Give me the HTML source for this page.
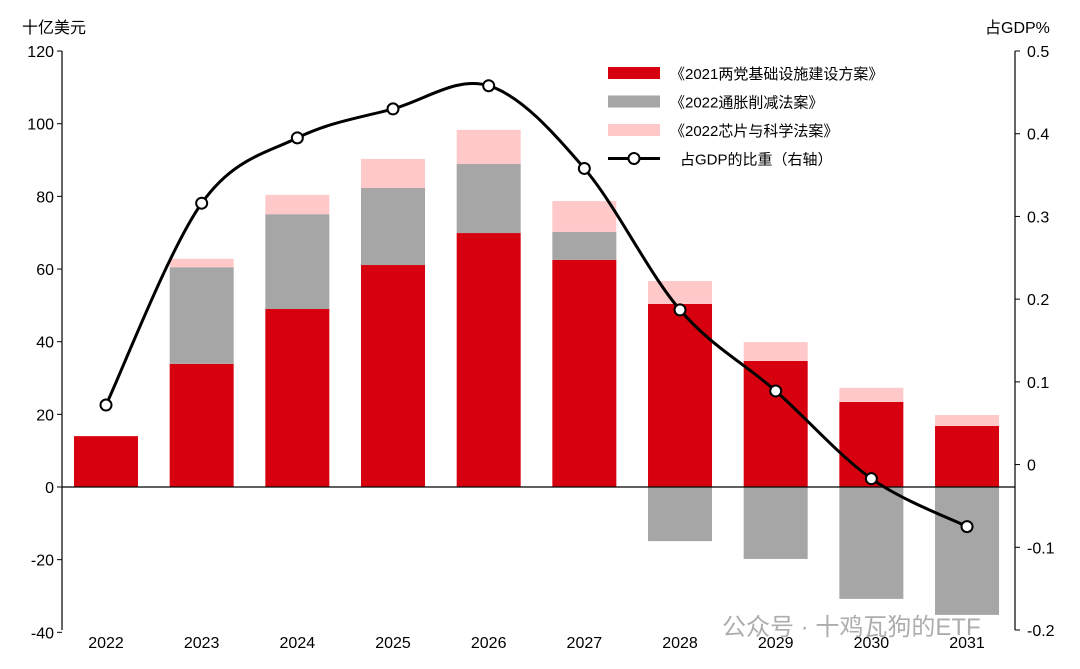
<!DOCTYPE html>
<html><head><meta charset="utf-8"><style>
body{margin:0;background:#fff}
svg{display:block;font-family:"Liberation Sans","Noto Sans CJK SC",sans-serif}
</style></head><body>
<svg id="c" width="1080" height="669"></svg>
<script>
const categories=["2022","2023","2024","2025","2026","2027","2028","2029","2030","2031"];
const infraValues=[14,33.9,49,61.1,69.9,62.5,50.4,34.7,23.4,16.8];
const iraValues=[0,26.6,26.1,21.2,19,7.7,-14.9,-19.8,-30.8,-35.2];
const chipsValues=[0,2.3,5.3,8,9.4,8.5,6.3,5.2,3.9,3];
const gdpShare=[0.072,0.316,0.395,0.43,0.458,0.358,0.187,0.089,-0.017,-0.075];
const leftTicks=[120,100,80,60,40,20,0,-20,-40];
const rightTicks=[0.5,0.4,0.3,0.2,0.1,0,-0.1,-0.2];
const legendLabels=["《2021两党基础设施建设方案》","《2022通胀削减法案》","《2022芯片与科学法案》","占GDP的比重（右轴）"];

const NS="http://www.w3.org/2000/svg";
const svg=document.getElementById('c');
function mk(t,a,txt){const e=document.createElementNS(NS,t);for(const k in a)e.setAttribute(k,a[k]);if(txt!=null)e.textContent=txt;svg.appendChild(e);return e;}
const X0=62,X1=1015,step=95.67,bw=64;
const yL=v=>487-v*3.633;
const yR=v=>630-(v+0.2)*(579/0.7);
const xc=i=>106+step*i;

let e=mk('line',{x1:X0,y1:51,x2:X0,y2:630,stroke:'#000','stroke-width':1.2});

e=mk('line',{x1:X1,y1:51,x2:X1,y2:630,stroke:'#000','stroke-width':1.2});

leftTicks.forEach(v=>{
 mk('line',{x1:X0-5,y1:yL(v),x2:X0,y2:yL(v),stroke:'#000'});
 e=mk('text',{x:X0-8,y:yL(v)+6,'text-anchor':'end','font-size':16},v);
 
});
rightTicks.forEach(v=>{
 mk('line',{x1:X1,y1:yR(v),x2:X1+5,y2:yR(v),stroke:'#000'});
 e=mk('text',{x:X1+12,y:yR(v)+6,'font-size':16},v);
 
});
e=mk('text',{x:22,y:33,'font-size':16},'十亿美元');
e=mk('text',{x:985,y:33,'font-size':16},'占GDP%');

categories.forEach((c,i)=>{
 const x=xc(i)-bw/2;
 const r=infraValues[i],g=iraValues[i],p=chipsValues[i];
 e=mk('rect',{x:x,y:yL(r),width:bw,height:yL(0)-yL(r),fill:'#d7000f'});
 
 let top=r;
 if(g>0){e=mk('rect',{x:x,y:yL(r+g),width:bw,height:yL(r)-yL(r+g),fill:'#a6a6a6'});top=r+g;}
 else if(g<0){e=mk('rect',{x:x,y:yL(0),width:bw,height:yL(g)-yL(0),fill:'#a6a6a6'});}
 if(g!==0){}
 if(p>0){e=mk('rect',{x:x,y:yL(top+p),width:bw,height:yL(top)-yL(top+p),fill:'#ffc9ca'});
 }
 e=mk('text',{x:xc(i),y:648,'text-anchor':'middle','font-size':16},c);
 
});
e=mk('line',{x1:X0,y1:yL(0),x2:X1,y2:yL(0),stroke:'#000','stroke-width':1.2});


const pts=gdpShare.map((v,i)=>[xc(i),yR(v)]);
let d='M'+pts[0][0]+','+pts[0][1];
for(let i=0;i<pts.length-1;i++){
 const p0=pts[i-1]||pts[i],p1=pts[i],p2=pts[i+1],p3=pts[i+2]||p2,t=6;
 d+=` C${p1[0]+(p2[0]-p0[0])/t},${p1[1]+(p2[1]-p0[1])/t} ${p2[0]-(p3[0]-p1[0])/t},${p2[1]-(p3[1]-p1[1])/t} ${p2[0]},${p2[1]}`;
}
e=mk('path',{d:d,fill:'none',stroke:'#000','stroke-width':3});

pts.forEach(p=>{e=mk('circle',{cx:p[0],cy:p[1],r:5.5,fill:'#fff',stroke:'#000','stroke-width':2});
 });

const fills=['#d7000f','#a6a6a6','#ffc9ca'];
legendLabels.forEach((l,i)=>{
 const y=73+i*28.5;
 if(i<3){e=mk('rect',{x:608,y:y-6,width:52,height:12,fill:fills[i]});}
 else{mk('line',{x1:608,y1:y,x2:660,y2:y,stroke:'#000','stroke-width':3});
  e=mk('circle',{cx:634,cy:y,r:5.5,fill:'#fff',stroke:'#000','stroke-width':2});}
 
 e=mk('text',{x:i<3?670:680,y:y+6,'font-size':15},l);
 
});
e=mk('text',{x:722,y:635,'font-size':24,fill:'#999','fill-opacity':0.8},'公众号 · 十鸡瓦狗的ETF');

</script>
</body></html>
